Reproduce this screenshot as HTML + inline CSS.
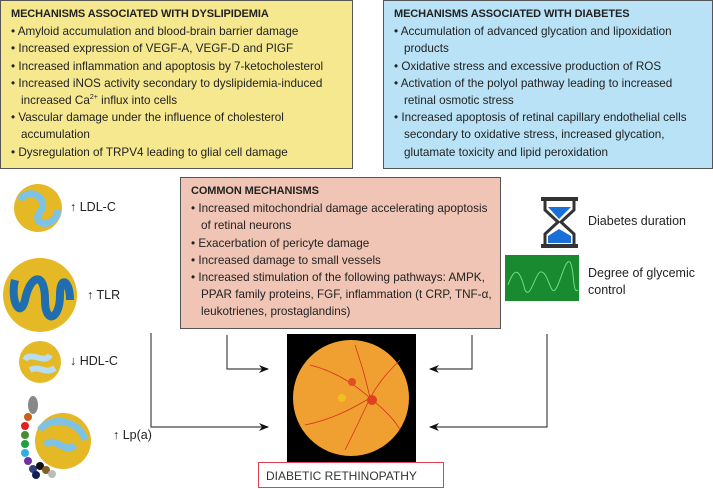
<!DOCTYPE html>
<html><head><meta charset="utf-8"><style>
body{margin:0;width:713px;height:489px;background:#fff;position:relative;overflow:hidden;font-family:"Liberation Sans",sans-serif;color:#222}
.box{position:absolute;box-sizing:border-box;border:1px solid #555;font-size:11.7px;line-height:17.2px;padding:5px 6px 0 10px}
.box h4{margin:0;font-size:11px;font-weight:bold;letter-spacing:-0.1px}
.box ul{margin:0;padding:0;list-style:none}
.box li{padding-left:10px;text-indent:-10px}
.box li:before{content:"• ";}
sup{font-size:7px;line-height:0}
.lbl{position:absolute;font-size:12.5px;white-space:nowrap}
</style></head><body>
<div class="box" style="left:0;top:0;width:353px;height:169px;background:#f6e88f">
<h4>MECHANISMS ASSOCIATED WITH DYSLIPIDEMIA</h4>
<ul><li>Amyloid accumulation and blood-brain barrier damage</li>
<li>Increased expression of VEGF-A, VEGF-D and PIGF</li>
<li>Increased inflammation and apoptosis by 7-ketocholesterol</li>
<li>Increased iNOS activity secondary to dyslipidemia-induced increased Ca<sup>2+</sup> influx into cells</li>
<li>Vascular damage under the influence of cholesterol accumulation</li>
<li>Dysregulation of TRPV4 leading to glial cell damage</li></ul></div>
<div class="box" style="left:383px;top:0;width:330px;height:169px;background:#b9e2f6">
<h4>MECHANISMS ASSOCIATED WITH DIABETES</h4>
<ul><li>Accumulation of advanced glycation and lipoxidation products</li>
<li>Oxidative stress and excessive production of ROS</li>
<li>Activation of the polyol pathway leading to increased retinal osmotic stress</li>
<li>Increased apoptosis of retinal capillary endothelial cells secondary to oxidative stress, increased glycation, glutamate toxicity and lipid peroxidation</li></ul></div>
<div class="box" style="left:180px;top:177px;width:321px;height:152px;background:#f0c5b5">
<h4>COMMON MECHANISMS</h4>
<ul><li>Increased mitochondrial damage accelerating apoptosis of retinal neurons</li>
<li>Exacerbation of pericyte damage</li>
<li>Increased damage to small vessels</li>
<li>Increased stimulation of the following pathways: AMPK, PPAR family proteins, FGF, inflammation (t CRP, TNF-α, leukotrienes, prostaglandins)</li></ul></div>

<svg width="713" height="489" style="position:absolute;left:0;top:0">
<defs><marker id="a" markerWidth="10" markerHeight="8" refX="9" refY="4" orient="auto" markerUnits="userSpaceOnUse"><path d="M0,0 L10,4 L0,8 L3,4z" fill="#111"/></marker></defs>
<g stroke="#444" stroke-width="1.2" fill="none">
<path d="M151,333 V427 H268" marker-end="url(#a)"/>
<path d="M227,335 V369 H268" marker-end="url(#a)"/>
<path d="M472,335 V369 H430" marker-end="url(#a)"/>
<path d="M547,334 V427 H430" marker-end="url(#a)"/>
</g>
<rect x="287" y="334" width="129" height="128" fill="#000"/>
<circle cx="351" cy="398" r="58" fill="#f0a030"/>
<g stroke="#d83020" stroke-width="0.8" fill="none">
<path d="M370,398 C350,380 330,370 310,365 M370,398 C350,410 330,420 305,425 M370,398 C380,380 390,370 400,360 M370,398 C385,410 395,420 400,430 M370,398 C360,420 350,440 345,450 M370,398 C365,375 360,360 355,345"/></g>
<circle cx="372" cy="400" r="5" fill="#e04020"/><circle cx="352" cy="382" r="4" fill="#e05020"/>
<circle cx="342" cy="398" r="4" fill="#f0c020"/>
<rect x="258.5" y="462.5" width="185" height="25" fill="#fff" stroke="#e04050"/>
<text x="266" y="480" font-size="12" fill="#333" font-family="Liberation Sans">DIABETIC RETHINOPATHY</text>
<circle cx="38" cy="208" r="24" fill="#e5b825"/><path d="M20,200 C30,185 50,200 40,212 C30,225 55,230 58,210" stroke="#7ec3e5" stroke-width="7" fill="none"/>
<circle cx="40" cy="295" r="37" fill="#e5b825"/><path d="M15,280 C10,300 20,320 25,300 C30,275 45,270 45,300 C45,325 60,320 60,295 C60,275 70,280 70,300" stroke="#1f6fb0" stroke-width="8" fill="none"/>
<circle cx="40" cy="362" r="21" fill="#e5b825"/><path d="M25,360 C30,350 45,365 50,355 M30,370 C40,365 45,375 55,368" stroke="#b8dcf0" stroke-width="6" fill="none"/>
<circle cx="63" cy="441" r="28" fill="#e5b825"/><path d="M40,430 C50,415 80,420 85,440 M45,445 C55,435 65,455 75,445" stroke="#7ec3e5" stroke-width="7" fill="none"/>
<ellipse cx="33" cy="405" rx="5" ry="9" fill="#888"/>
<g><circle cx="28" cy="417" r="4" fill="#c86020"/><circle cx="25" cy="426" r="4" fill="#e02020"/><circle cx="25" cy="435" r="4" fill="#4a8a30"/><circle cx="25" cy="444" r="4" fill="#20a040"/><circle cx="25" cy="453" r="4" fill="#30b0e0"/><circle cx="28" cy="461" r="4" fill="#7030a0"/><circle cx="33" cy="469" r="4" fill="#304080"/><circle cx="36" cy="475" r="4" fill="#102050"/><circle cx="40" cy="466" r="4" fill="#111"/><circle cx="46" cy="470" r="4" fill="#806020"/><circle cx="52" cy="474" r="4" fill="#bbb"/></g>
<rect x="541" y="197" width="37" height="4" fill="#333"/><rect x="541" y="244" width="37" height="4" fill="#333"/>
<path d="M545,201 L545,210 L558,222 L545,234 L545,244 M574,201 L574,210 L561,222 L574,234 L574,244" stroke="#333" stroke-width="3" fill="none"/>
<path d="M548,207 L571,207 L559,219z M548,243 L571,243 L571,236 L559,229 L548,236z" fill="#1a6fd8"/>
<rect x="505" y="255" width="74" height="46" fill="#1a8a30"/>
<path d="M508,285 C515,265 520,270 525,290 C530,300 535,275 540,272 C548,270 550,295 555,290 C560,285 565,258 570,262 C575,270 572,295 578,290" stroke="#6be07a" stroke-width="1" fill="none"/>
</svg>
<div class="lbl" style="left:70px;top:200px">↑ LDL-C</div>
<div class="lbl" style="left:87px;top:288px">↑ TLR</div>
<div class="lbl" style="left:70px;top:354px">↓ HDL-C</div>
<div class="lbl" style="left:113px;top:428px">↑ Lp(a)</div>
<div class="lbl" style="left:588px;top:214px">Diabetes duration</div>
<div class="lbl" style="left:588px;top:265px;line-height:17px">Degree of glycemic<br>control</div>
</body></html>
